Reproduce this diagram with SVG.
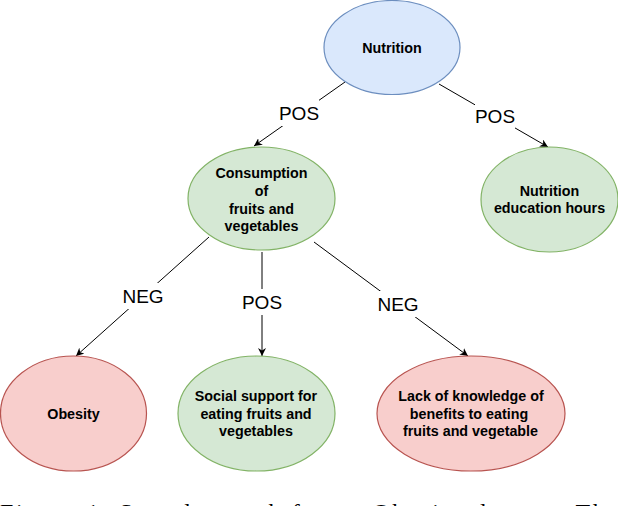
<svg xmlns="http://www.w3.org/2000/svg" width="618" height="506" viewBox="0 0 618 506">
<defs>
<style>
.blue{fill:#dae8fc;stroke:#6c8ebf;stroke-width:1.2}
.green{fill:#d5e8d4;stroke:#82b366;stroke-width:1.2}
.red{fill:#f8cecc;stroke:#b85450;stroke-width:1.2}
.nt{font-family:"Liberation Sans",Arial,sans-serif;font-size:14.3px;font-weight:bold;fill:#000;text-anchor:middle}
.el{stroke:#000;stroke-width:1;fill:none}
.lb{font-family:"Liberation Sans",Arial,sans-serif;font-size:19px;fill:#000;text-anchor:middle}
.cap{font-family:"Liberation Serif","Times New Roman",serif;font-size:24px;fill:#000}
</style>
<marker id="arr" viewBox="0 0 10 10" refX="10" refY="5" markerWidth="8" markerHeight="8" markerUnits="userSpaceOnUse" orient="auto">
<path d="M0,0 L10,5 L0,10 L3,5 Z" fill="#000"/>
</marker>
</defs>
<rect width="618" height="506" fill="#fff"/>
<g id="connectors">
<line class="el" x1="345" y1="82" x2="254" y2="146" marker-end="url(#arr)"/>
<line class="el" x1="439" y1="84" x2="548" y2="147" marker-end="url(#arr)"/>
<line class="el" x1="209" y1="237" x2="76" y2="356" marker-end="url(#arr)"/>
<line class="el" x1="262" y1="252" x2="262" y2="356" marker-end="url(#arr)"/>
<line class="el" x1="314" y1="242" x2="468" y2="356" marker-end="url(#arr)"/>
<rect x="279" y="100" width="40" height="26" fill="#fff"/>
<text class="lb" x="299" y="120">POS</text>
<rect x="475" y="103" width="40" height="26" fill="#fff"/>
<text class="lb" x="495" y="123">POS</text>
<rect x="122" y="283" width="42" height="26" fill="#fff"/>
<text class="lb" x="143" y="303">NEG</text>
<rect x="242" y="289" width="40" height="26" fill="#fff"/>
<text class="lb" x="262" y="309">POS</text>
<rect x="377" y="291" width="42" height="26" fill="#fff"/>
<text class="lb" x="398" y="311">NEG</text>
</g>
<g id="nutrition">
<ellipse class="blue" cx="392" cy="47.5" rx="68" ry="47"/>
<text class="nt" x="392" y="52.5">Nutrition</text>
</g>
<g id="consumption">
<ellipse class="green" cx="261.5" cy="198.5" rx="73.5" ry="51.5"/>
<text class="nt" x="261.5" y="178">Consumption</text>
<text class="nt" x="261.5" y="196">of</text>
<text class="nt" x="261.5" y="214">fruits and</text>
<text class="nt" x="261.5" y="231">vegetables</text>
</g>
<g id="education">
<ellipse class="green" cx="549.5" cy="199.5" rx="68.5" ry="52.5"/>
<text class="nt" x="549.5" y="196">Nutrition</text>
<text class="nt" x="549.5" y="213">education hours</text>
</g>
<g id="obesity">
<ellipse class="red" cx="73.5" cy="413.5" rx="73" ry="57.5"/>
<text class="nt" x="73.5" y="419">Obesity</text>
</g>
<g id="social">
<ellipse class="green" cx="256.5" cy="413.5" rx="78.5" ry="57.5"/>
<text class="nt" x="256" y="401">Social support for</text>
<text class="nt" x="256" y="419">eating fruits and</text>
<text class="nt" x="256" y="436">vegetables</text>
</g>
<g id="lack">
<ellipse class="red" cx="471" cy="413.5" rx="94" ry="57.5"/>
<text class="nt" x="471" y="401">Lack of knowledge of</text>
<text class="nt" x="469" y="419">benefits to eating</text>
<text class="nt" x="470.5" y="436">fruits and vegetable</text>
</g>
<text class="cap" x="0" y="520" textLength="618" lengthAdjust="spacing">Figure 1: Sample graph for an Obesity dataset. The</text>
</svg>
